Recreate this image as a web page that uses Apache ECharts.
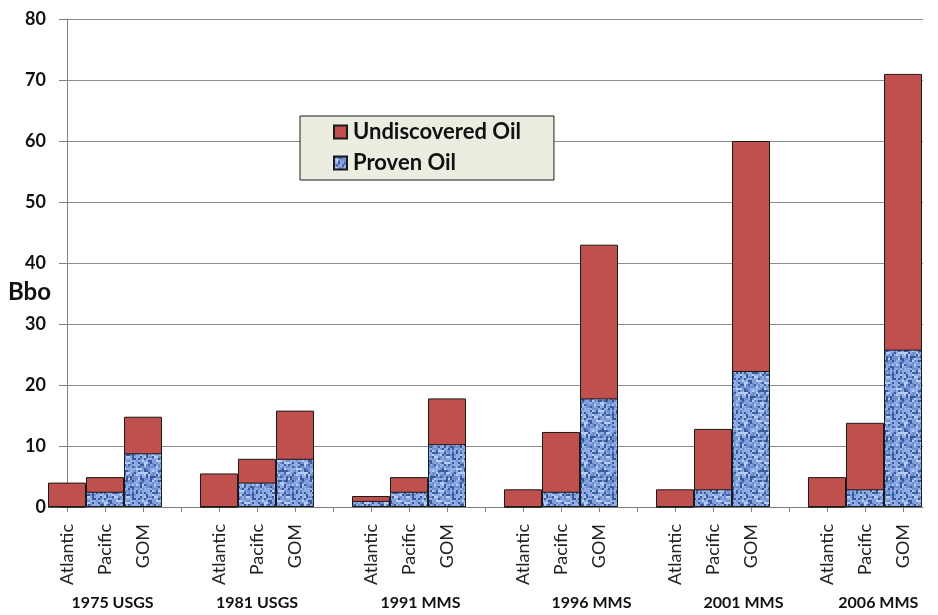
<!DOCTYPE html>
<html>
<head>
<meta charset="utf-8">
<script src="https://cdn.jsdelivr.net/npm/echarts@6/dist/echarts.min.js"></script>
<style>
  html, body { margin: 0; padding: 0; background: #ffffff; }
  #chart { width: 938px; height: 615px; }
</style>
</head>
<body>
<div id="chart"></div>
<script>
// Basins shown inside every assessment group
const regions = ['Atlantic', 'Pacific', 'GOM'];
// Resource assessments (one group of bars each)
const assessments = ['1975 USGS', '1981 USGS', '1991 MMS', '1996 MMS', '2001 MMS', '2006 MMS'];
// Proven oil, billion barrels, per assessment: [Atlantic, Pacific, GOM]
const provenOil = [
  [0.0, 2.5, 8.8],
  [0.0, 4.0, 7.9],
  [1.0, 2.5, 10.3],
  [0.0, 2.5, 17.8],
  [0.0, 2.9, 22.3],
  [0.0, 2.9, 25.8]
];
// Undiscovered oil, billion barrels, sitting on top of proven oil
const undiscoveredOil = [
  [4.0, 2.4, 6.0],
  [5.5, 3.9, 7.9],
  [0.8, 2.4, 7.5],
  [2.9, 9.8, 25.2],
  [2.9, 9.9, 37.7],
  [4.9, 10.9, 45.2]
];
// Value axis ticks
const yTicks = [0, 10, 20, 30, 40, 50, 60, 70, 80];

// ---- layout ----
const SLOTS_PER_GROUP = 4;           // three basins + one empty spacer slot
const groupLabelNudge = [0.2, 0.0, 0.3, 0.8, 0.8, 0.35];
const FONT = 'Lato, "Open Sans", sans-serif';

function slotOf(g, r) { return g * SLOTS_PER_GROUP + r; }

// [slot, value] pairs; the red bar spans proven + undiscovered and the
// proven bar is drawn over its lower part, giving a stacked column.
function provenData() {
  const out = [];
  provenOil.forEach((row, g) => row.forEach((v, r) => out.push([slotOf(g, r), v])));
  return out;
}
function columnTopData() {
  const out = [];
  undiscoveredOil.forEach((row, g) => row.forEach((v, r) =>
    out.push([slotOf(g, r), +(provenOil[g][r] + v).toFixed(2)])));
  return out;
}

// Woven blue texture used for the proven-oil fill (2px threads)
function makeWeave() {
  const N = 20, CELL = 2;
  const c = document.createElement('canvas');
  c.width = N * CELL; c.height = N * CELL;
  const ctx = c.getContext('2d');
  for (let y = 0; y < N; y++) {
    for (let x = 0; x < N; x++) {
      let h = (x * 374761393 + y * 668265263) | 0;
      h = (h ^ (h >>> 13)) * 1274126177 | 0;
      h = (h ^ (h >>> 16)) >>> 0;
      const t = (h % 100) / 100;
      const weft = (y % 3 === 0) ? -0.2 : 0;
      const warp = (x % 4 === 0) ? 0.1 : 0;
      const k = t + weft + warp;
      let col;
      if (k < 0.2) col = '#3a5a9e';
      else if (k < 0.48) col = '#6f8fd0';
      else if (k < 0.8) col = '#90acE4';
      else col = '#b9cdf2';
      ctx.fillStyle = col;
      ctx.fillRect(x * CELL, y * CELL, CELL, CELL);
    }
  }
  return c;
}

const weave = makeWeave();
const chart = echarts.init(document.getElementById('chart'), null, { renderer: 'canvas' });

const plotLeft = 67, plotTop = 19, plotWidth = 856, plotHeight = 488;
const slotPx = 38;
const xMax = plotWidth / slotPx;

const groupCenters = assessments.map((_, g) => slotOf(g, 1) + groupLabelNudge[g]);

function regionLabel(v) {
  const k = Math.round(v);
  if (Math.abs(v - k) > 1e-6) return '';
  const r = k % SLOTS_PER_GROUP;
  return r < regions.length ? regions[r] : '';
}

const option = {
  animation: false,
  backgroundColor: '#ffffff',
  grid: { left: plotLeft, top: plotTop, width: plotWidth, height: plotHeight, containLabel: false },
  legend: {
    orient: 'vertical',
    left: 300,
    top: 116,
    data: ['Undiscovered Oil', 'Proven Oil'],
    backgroundColor: '#ebede1',
    borderColor: '#1a1a1a',
    borderWidth: 1,
    padding: [5, 33, 6, 33],
    itemGap: 9,
    itemWidth: 13,
    itemHeight: 13,
    icon: 'rect',
    selectedMode: false,
    textStyle: { fontFamily: FONT, fontSize: 22, fontWeight: 'bold', color: '#111', lineHeight: 22, padding: [0, 0, 0, 1] }
  },
  graphic: [{
    type: 'text', left: 8, top: 280,
    style: { text: 'Bbo', font: 'bold 24px ' + FONT, fill: '#111' }
  }],
  xAxis: [{
    type: 'value',
    min: 0,
    max: xMax,
    interval: 1,
    position: 'bottom',
    splitLine: { show: false },
    axisLine: { show: true, lineStyle: { color: '#7f7f7f', width: 1 } },
    axisTick: { show: true, length: 5, lineStyle: { color: '#7f7f7f' } },
    axisLabel: {
      rotate: 90, margin: 17, fontFamily: FONT, fontSize: 18, color: '#222',
      showMaxLabel: false,
      formatter: regionLabel
    }
  }, {
    type: 'value',
    min: 0,
    max: xMax,
    position: 'bottom',
    splitLine: { show: false },
    axisLine: { show: false },
    axisTick: { show: false },
    axisLabel: {
      customValues: groupCenters,
      margin: 88, fontFamily: FONT, fontSize: 16, fontWeight: 'bold', color: '#111',
      formatter: (v) => {
        const g = groupCenters.findIndex(c => Math.abs(c - v) < 1e-6);
        return g >= 0 ? assessments[g] : '';
      }
    }
  }],
  yAxis: {
    type: 'value',
    min: yTicks[0],
    max: yTicks[yTicks.length - 1],
    interval: yTicks[1] - yTicks[0],
    axisLine: { show: true, lineStyle: { color: '#7f7f7f', width: 1 } },
    axisTick: { show: true, length: 8, lineStyle: { color: '#7f7f7f' } },
    splitLine: { show: true, lineStyle: { color: '#8c8c8c', width: 1 } },
    axisLabel: { margin: 21, fontFamily: FONT, fontSize: 18, fontWeight: 'bold', color: '#111' }
  },
  series: [{
    name: 'Undiscovered Oil',
    type: 'bar',
    xAxisIndex: 0,
    barWidth: slotPx,
    barGap: '-100%',
    clip: true,
    data: columnTopData(),
    itemStyle: { color: '#c0504d', borderColor: '#1a1a1a', borderWidth: 1 }
  }, {
    name: 'Proven Oil',
    type: 'bar',
    xAxisIndex: 0,
    barWidth: slotPx,
    barGap: '-100%',
    clip: true,
    data: provenData(),
    itemStyle: { color: { image: weave, repeat: 'repeat' }, borderColor: '#1a1a1a', borderWidth: 1 }
  }]
};

chart.setOption(option);
</script>
</body>
</html>
